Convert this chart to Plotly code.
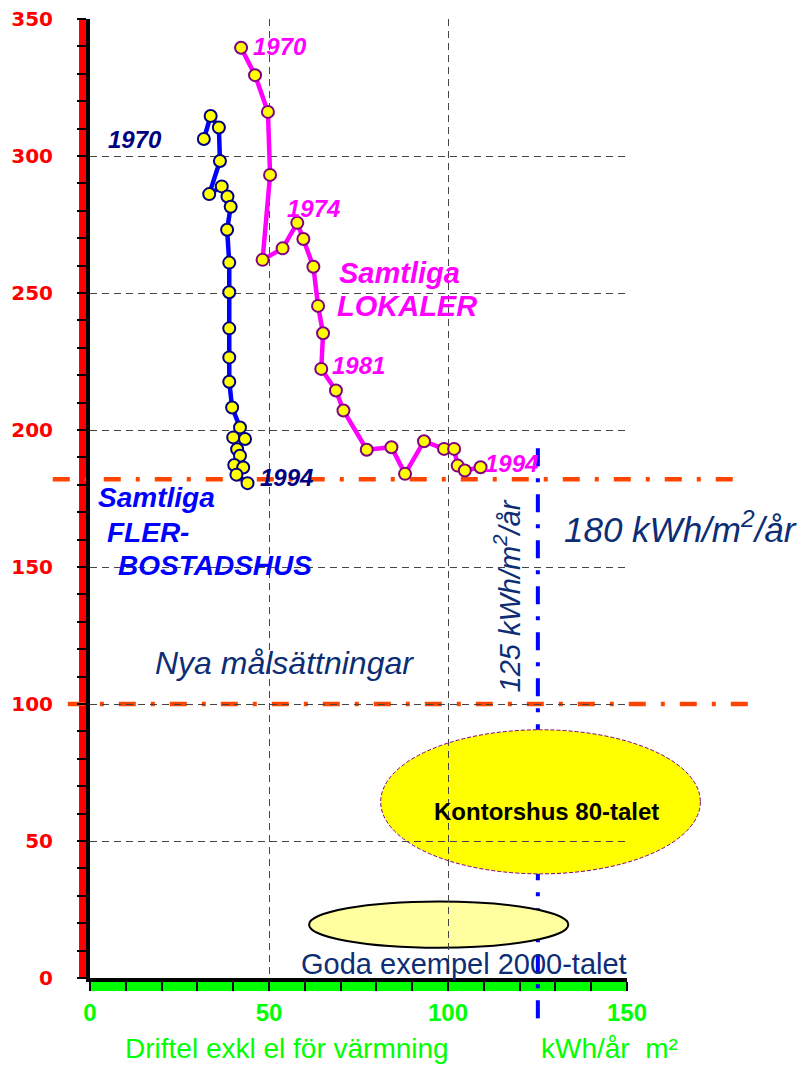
import plotly.graph_objects as go

# ---------------- data ----------------
X_RANGE = [0, 150]
Y_RANGE = [0, 350]
x_ticks = [0, 50, 100, 150]
y_ticks = [0, 50, 100, 150, 200, 250, 300, 350]

# Samtliga flerbostadshus 1970-1994
fler_x = [31.8, 33.7, 36.0, 36.3, 33.3, 36.8, 38.4, 39.3, 38.3, 38.9, 38.9, 38.9,
          38.9, 38.9, 39.7, 41.9, 40.0, 43.3, 41.1, 41.9, 40.3, 42.8, 40.9, 44.0]
fler_y = [306.2, 314.6, 310.4, 298.2, 286.1, 288.9, 285.2, 281.5, 273.1, 261.1, 250.3, 237.1,
          226.5, 217.6, 208.2, 200.9, 197.3, 196.7, 193.0, 190.6, 187.2, 186.3, 183.7, 180.6]

# Samtliga lokaler 1970-1994
lok_x = [42.2, 46.1, 49.7, 50.3, 48.2, 53.8, 57.9, 59.6, 62.4, 63.7, 65.1, 64.6,
         68.7, 70.8, 77.3, 84.2, 88.0, 93.3, 98.9, 101.7, 102.7, 104.7, 109.1]
lok_y = [339.5, 329.5, 316.1, 293.1, 262.1, 266.3, 275.6, 269.7, 259.6, 245.3, 235.3, 222.3,
         214.4, 207.1, 192.8, 193.7, 184.0, 195.9, 193.1, 193.1, 187.0, 185.2, 186.4]

# target levels
level_180 = 182
level_100 = 100
level_125_x = 125.1

# ellipses (data units)
kontor_x = [81.2, 170.5]
kontor_y = [38.0, 90.6]
goda_x = [61.2, 133.6]
goda_y = [11.0, 27.9]


def fx(v):
    return (v - X_RANGE[0]) / (X_RANGE[1] - X_RANGE[0])


def fy(v):
    return (v - Y_RANGE[0]) / (Y_RANGE[1] - Y_RANGE[0])


fig = go.Figure()

fig.add_trace(go.Scatter(
    x=fler_x, y=fler_y, mode="lines+markers",
    line=dict(color="#0000FF", width=4.5),
    marker=dict(size=12, color="#FFFF00", line=dict(color="#000080", width=2)),
    cliponaxis=False, showlegend=False, hoverinfo="skip"))

fig.add_trace(go.Scatter(
    x=lok_x, y=lok_y, mode="lines+markers",
    line=dict(color="#FF00FF", width=4.5),
    marker=dict(size=12, color="#FFFF00", line=dict(color="#800080", width=2)),
    cliponaxis=False, showlegend=False, hoverinfo="skip"))

shapes = []
# red bar along y axis
shapes.append(dict(type="rect", xref="paper", yref="paper", x0=-0.0205, x1=-0.004,
                   y0=0, y1=1, fillcolor="#FF0000", line=dict(width=0), layer="below"))
# green bar along x axis
shapes.append(dict(type="rect", xref="paper", yref="paper", x0=0, x1=1,
                   y0=-0.0135, y1=-0.004, fillcolor="#00FF00", line=dict(width=0), layer="below"))
# blue vertical 125 line
shapes.append(dict(type="line", xref="paper", yref="paper",
                   x0=fx(level_125_x), x1=fx(level_125_x), y0=fy(193.3), y1=fy(-16.3),
                   line=dict(color="#0000FF", width=4, dash="18px,12px,4px,12px"), layer="below"))
# ellipses
shapes.append(dict(type="circle", xref="paper", yref="paper",
                   x0=fx(kontor_x[0]), x1=fx(kontor_x[1]), y0=fy(kontor_y[0]), y1=fy(kontor_y[1]),
                   fillcolor="#FFFF00", line=dict(color="#800080", width=1, dash="4px,2px"), layer="below"))
shapes.append(dict(type="circle", xref="paper", yref="paper",
                   x0=fx(goda_x[0]), x1=fx(goda_x[1]), y0=fy(goda_y[0]), y1=fy(goda_y[1]),
                   fillcolor="#FFFFA0", line=dict(color="#000000", width=2), layer="below"))
# orange dash-dot target lines
shapes.append(dict(type="line", xref="paper", yref="paper",
                   x0=fx(-10.4), x1=fx(179.7), y0=fy(level_180), y1=fy(level_180),
                   line=dict(color="#FF4500", width=4.5, dash="17px,15px,4px,15px"), layer="between"))
shapes.append(dict(type="line", xref="paper", yref="paper",
                   x0=fx(-6.2), x1=fx(184.2), y0=fy(level_100), y1=fy(level_100),
                   line=dict(color="#FF4500", width=4.5, dash="17px,15px,4px,15px"), layer="between"))

NAVY = "#000080"
DARK = "#0D2D75"
MAG = "#FF00FF"
BLUE = "#0000FF"
GREEN = "#00FF00"
FONT = "Liberation Sans, Arial, sans-serif"

ann = []


def add(text, x, y, color, size, xanchor="center", angle=0):
    ann.append(dict(text=text, x=fx(x), y=fy(y), xref="paper", yref="paper",
                    xanchor=xanchor, yanchor="middle", showarrow=False, textangle=angle,
                    font=dict(family=FONT, size=size, color=color)))


add("<b><i>1970</i></b>", 12.5, 306.2, NAVY, 24)
add("<b><i>1994</i></b>", 55.0, 182.8, NAVY, 24)
add("<b><i>1970</i></b>", 53.1, 340.1, MAG, 24)
add("<b><i>1974</i></b>", 62.3, 281.0, MAG, 24)
add("<b><i>1981</i></b>", 74.9, 223.7, MAG, 24)
add("<b><i>1994</i></b>", 117.6, 187.6, MAG, 24)
add("<b><i>Samtliga</i></b>", 68.9, 257.4, MAG, 29, "left")
add("<b><i>LOKALER</i></b>", 68.4, 245.2, MAG, 29, "left")
add("<b><i>Samtliga</i></b>", 1.8, 175.3, BLUE, 28, "left")
add("<b><i>FLER-</i></b>", 4.1, 162.6, BLUE, 28, "left")
add("<b><i>BOSTADSHUS</i></b>", 7.4, 150.7, BLUE, 28, "left")
add("<i>180 kWh/m<sup>2</sup>/år</i>", 131.9, 164.6, DARK, 35, "left")
add("<i>125 kWh/m<sup>2</sup>/år</i>", 116.6, 139.4, DARK, 29, "center", -90)
add("<i>Nya målsättningar</i>", 17.6, 115.0, DARK, 32, "left")
add("<b>Kontorshus 80-talet</b>", 127.4, 60.7, "#000000", 24)
add("Goda exempel 2000-talet", 104.6, 5.2, DARK, 29)
add("Driftel exkl el för värmning", 54.9, -25.8, GREEN, 28)
add("kWh/år  m²", 145.2, -25.8, GREEN, 28)

# the page body adds an 8px offset, so the figure is sized/margined to compensate
fig.update_layout(
    width=801, height=1061,
    margin=dict(l=82, r=182, t=11, b=91),
    paper_bgcolor="white", plot_bgcolor="white",
    shapes=shapes, annotations=ann, showlegend=False,
    xaxis=dict(range=X_RANGE, tickvals=x_ticks, showgrid=True, gridcolor="#444444",
               griddash="7px,5px", gridwidth=1, zeroline=False, automargin=False,
               showline=True, linecolor="black", linewidth=4,
               ticks="outside", ticklen=9, tickwidth=2, tickcolor="black",
               minor=dict(dtick=10, ticks="outside", ticklen=9, tickwidth=2,
                          tickcolor="black", showgrid=False),
               tickfont=dict(family=FONT, size=24, color=GREEN, weight="bold"),
               ticklabelstandoff=1, ticklabeloverflow="allow", fixedrange=True),
    yaxis=dict(range=Y_RANGE, tickvals=y_ticks, showgrid=True, gridcolor="#444444",
               griddash="7px,5px", gridwidth=1, zeroline=False, automargin=False,
               showline=True, linecolor="black", linewidth=4,
               ticks="outside", ticklen=9, tickwidth=1.5, tickcolor="black",
               minor=dict(dtick=10, ticks="outside", ticklen=9, tickwidth=1.5,
                          tickcolor="black", showgrid=False),
               tickfont=dict(family="DejaVu Sans", size=20, color="#FF0000", weight="bold"),
               ticklabelstandoff=20, ticklabeloverflow="allow", fixedrange=True),
)

fig.write_html("out.html")
